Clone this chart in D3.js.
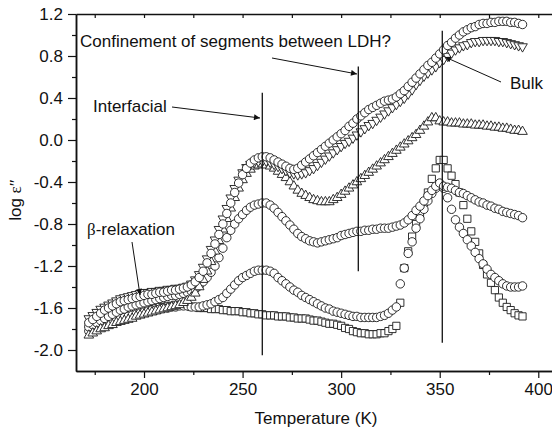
<!DOCTYPE html>
<html><head><meta charset="utf-8">
<script src="https://cdn.jsdelivr.net/npm/d3@7"></script>
<style>body{margin:0;background:#fff}svg{display:block}</style>
</head><body>
<script>
// Temperature grid (K)
const temps = [172,174,176,178,180,182,184,186,188,190,
192,194,196,198,200,202,204,206,208,210,
212,214,216,218,220,222,224,226,228,230,
232,234,236,238,240,242,244,246,248,250,
252,254,256,258,260,262,264,266,268,270,
272,274,276,278,280,282,284,286,288,290,
292,294,296,298,300,302,304,306,308,310,
312,314,316,318,320,322,324,326,328,330,
332,334,336,338,340,342,344,346,348,350,
352,354,356,358,360,362,364,366,368,370,
372,374,376,378,380,382,384,386,388,390,
392];

// log eps'' series
const squares = [-1.76,-1.74,-1.73,-1.72,-1.71,-1.70,-1.69,-1.68,-1.67,-1.66,
-1.65,-1.64,-1.64,-1.63,-1.62,-1.61,-1.61,-1.60,-1.59,-1.59,
-1.58,-1.58,-1.57,-1.57,-1.58,-1.58,-1.59,-1.59,-1.60,-1.60,
-1.60,-1.61,-1.61,-1.61,-1.62,-1.62,-1.63,-1.63,-1.63,-1.64,
-1.64,-1.65,-1.65,-1.66,-1.66,-1.67,-1.67,-1.67,-1.68,-1.68,
-1.68,-1.69,-1.69,-1.70,-1.70,-1.70,-1.71,-1.72,-1.72,-1.73,
-1.74,-1.75,-1.75,-1.76,-1.77,-1.79,-1.80,-1.82,-1.83,-1.84,
-1.84,-1.85,-1.85,-1.85,-1.84,-1.84,-1.82,-1.80,-1.77,-1.55,
-1.22,-1.06,-0.92,-0.80,-0.70,-0.60,-0.50,-0.37,-0.27,-0.19,
-0.19,-0.27,-0.34,-0.42,-0.50,-0.62,-0.75,-0.87,-0.97,-1.08,
-1.19,-1.28,-1.36,-1.43,-1.50,-1.55,-1.59,-1.62,-1.65,-1.67,
-1.68];

const circlesLow = [-1.82,-1.80,-1.78,-1.76,-1.75,-1.73,-1.72,-1.71,-1.70,-1.69,
-1.68,-1.67,-1.66,-1.65,-1.64,-1.63,-1.62,-1.62,-1.61,-1.60,
-1.60,-1.59,-1.59,-1.58,-1.58,-1.58,-1.59,-1.59,-1.59,-1.58,
-1.57,-1.56,-1.54,-1.52,-1.50,-1.46,-1.42,-1.38,-1.34,-1.31,
-1.29,-1.27,-1.25,-1.24,-1.24,-1.24,-1.25,-1.27,-1.31,-1.34,
-1.37,-1.40,-1.43,-1.45,-1.48,-1.50,-1.52,-1.54,-1.56,-1.58,
-1.60,-1.61,-1.63,-1.64,-1.65,-1.66,-1.67,-1.68,-1.68,-1.69,
-1.69,-1.69,-1.69,-1.69,-1.68,-1.67,-1.65,-1.62,-1.59,-1.37,
-1.22,-1.08,-0.97,-0.84,-0.75,-0.66,-0.58,-0.51,-0.46,-0.42,
-0.46,-0.55,-0.66,-0.76,-0.83,-0.89,-0.95,-1.01,-1.07,-1.13,
-1.18,-1.23,-1.28,-1.31,-1.34,-1.37,-1.39,-1.40,-1.40,-1.40,
-1.39];

const circlesMid = [-1.78,-1.76,-1.74,-1.72,-1.70,-1.68,-1.66,-1.64,-1.62,-1.61,
-1.59,-1.58,-1.57,-1.56,-1.55,-1.54,-1.53,-1.52,-1.51,-1.50,
-1.49,-1.48,-1.48,-1.47,-1.46,-1.45,-1.44,-1.42,-1.39,-1.35,
-1.31,-1.26,-1.20,-1.12,-1.03,-0.93,-0.86,-0.80,-0.75,-0.71,
-0.67,-0.64,-0.62,-0.61,-0.60,-0.60,-0.62,-0.65,-0.69,-0.73,
-0.77,-0.81,-0.85,-0.89,-0.92,-0.94,-0.96,-0.97,-0.98,-0.97,
-0.96,-0.95,-0.94,-0.93,-0.91,-0.90,-0.89,-0.88,-0.87,-0.87,
-0.86,-0.86,-0.85,-0.85,-0.84,-0.84,-0.84,-0.83,-0.82,-0.81,
-0.79,-0.76,-0.72,-0.67,-0.63,-0.58,-0.53,-0.48,-0.44,-0.41,
-0.44,-0.45,-0.46,-0.48,-0.50,-0.51,-0.53,-0.55,-0.57,-0.59,
-0.60,-0.62,-0.63,-0.65,-0.66,-0.68,-0.69,-0.70,-0.71,-0.72,
-0.74];

const trianglesUp = [-1.86,-1.84,-1.82,-1.80,-1.79,-1.77,-1.76,-1.74,-1.73,-1.72,
-1.71,-1.70,-1.68,-1.67,-1.66,-1.65,-1.64,-1.63,-1.62,-1.61,
-1.60,-1.59,-1.58,-1.57,-1.55,-1.53,-1.50,-1.46,-1.40,-1.33,
-1.25,-1.16,-1.06,-0.96,-0.85,-0.75,-0.65,-0.55,-0.46,-0.38,
-0.32,-0.28,-0.25,-0.24,-0.23,-0.24,-0.25,-0.27,-0.30,-0.33,
-0.36,-0.40,-0.44,-0.48,-0.51,-0.53,-0.55,-0.57,-0.58,-0.59,
-0.59,-0.59,-0.57,-0.55,-0.52,-0.49,-0.46,-0.43,-0.40,-0.37,
-0.34,-0.31,-0.28,-0.25,-0.22,-0.19,-0.16,-0.13,-0.10,-0.07,
-0.04,-0.01,0.02,0.05,0.09,0.13,0.17,0.21,0.21,0.18,
0.17,0.17,0.16,0.16,0.16,0.15,0.15,0.15,0.14,0.14,
0.14,0.13,0.13,0.12,0.12,0.11,0.11,0.10,0.09,0.09,
0.08];

const trianglesDown = [-1.70,-1.67,-1.64,-1.61,-1.59,-1.57,-1.55,-1.53,-1.51,-1.50,
-1.49,-1.48,-1.47,-1.46,-1.45,-1.45,-1.44,-1.44,-1.43,-1.43,
-1.42,-1.42,-1.41,-1.41,-1.40,-1.39,-1.37,-1.33,-1.28,-1.21,
-1.13,-1.04,-0.95,-0.85,-0.75,-0.65,-0.55,-0.46,-0.38,-0.31,
-0.26,-0.23,-0.21,-0.20,-0.20,-0.20,-0.21,-0.23,-0.25,-0.27,
-0.29,-0.31,-0.32,-0.33,-0.32,-0.31,-0.29,-0.27,-0.24,-0.21,
-0.18,-0.15,-0.12,-0.09,-0.06,-0.03,-0.01,0.02,0.05,0.08,
0.11,0.14,0.16,0.19,0.22,0.25,0.28,0.31,0.34,0.37,
0.40,0.44,0.48,0.53,0.57,0.61,0.64,0.67,0.70,0.74,
0.77,0.80,0.83,0.86,0.88,0.90,0.91,0.93,0.94,0.94,
0.95,0.95,0.95,0.95,0.94,0.94,0.93,0.92,0.91,0.90,
0.89];

const circlesTop = [-1.74,-1.71,-1.68,-1.65,-1.62,-1.60,-1.58,-1.56,-1.54,-1.53,
-1.52,-1.51,-1.50,-1.49,-1.48,-1.47,-1.47,-1.46,-1.45,-1.45,
-1.44,-1.43,-1.43,-1.42,-1.41,-1.40,-1.38,-1.35,-1.31,-1.25,
-1.17,-1.08,-0.99,-0.90,-0.80,-0.70,-0.60,-0.50,-0.41,-0.33,
-0.27,-0.22,-0.19,-0.17,-0.16,-0.16,-0.17,-0.19,-0.21,-0.23,
-0.25,-0.27,-0.28,-0.27,-0.24,-0.21,-0.18,-0.15,-0.12,-0.09,
-0.06,-0.03,0.00,0.03,0.06,0.09,0.13,0.16,0.20,0.23,
0.26,0.29,0.31,0.33,0.35,0.37,0.38,0.39,0.41,0.44,
0.47,0.51,0.55,0.59,0.63,0.67,0.71,0.74,0.78,0.82,
0.86,0.90,0.93,0.97,1.00,1.03,1.05,1.07,1.08,1.10,
1.11,1.11,1.12,1.12,1.13,1.13,1.13,1.12,1.12,1.11,
1.10];

// ticks
const xMajorTicks = [200,250,300,350,400];
const xMinorTicks = [175,225,275,325,375];
const xTopTicks = [175,200,225,250,275,300,325,350,375,400];
const yMajorTicks = [-2.0,-1.6,-1.2,-0.8,-0.4,0.0,0.4,0.8,1.2];
const yMinorTicks = [-1.8,-1.4,-1.0,-0.6,-0.2,0.2,0.6,1.0];

// vertical guide lines (T, top, bottom in log eps'')
const guideT = [260, 308.7, 351.3];
const guideTop = [0.45, 0.70, 1.04];
const guideBottom = [-2.05, -1.25, -1.93];

const W = 552, H = 431;
const FONT = "'Liberation Sans', Arial, sans-serif";
const svg = d3.select("body").append("svg").attr("width", W).attr("height", H)
  .style("font-family", FONT);

const x = d3.scaleLinear().domain([165.5, 410]).range([76, 558]);
const y = d3.scaleLinear().domain([-2.2, 1.2]).range([371, 14]);

const defs = svg.append("defs");
defs.append("marker").attr("id", "ah").attr("viewBox", "0 0 10 10")
  .attr("refX", 10).attr("refY", 5).attr("markerWidth", 9).attr("markerHeight", 6)
  .attr("markerUnits", "userSpaceOnUse").attr("orient", "auto")
  .append("path").attr("d", "M0,0 L10,5 L0,10 z").attr("fill", "#111");

// axes
function styleAxis(g, fs) {
  g.selectAll(".domain").attr("stroke", "#111").attr("stroke-width", 1.5);
  g.selectAll(".tick line").attr("stroke", "#111").attr("stroke-width", 1.2);
  g.selectAll(".tick text").attr("fill", "#111").attr("font-size", fs)
    .attr("font-family", FONT);
}
const gxb = svg.append("g").attr("transform", "translate(0,371)")
  .call(d3.axisBottom(x).tickValues(xMajorTicks).tickSize(7).tickPadding(5).tickSizeOuter(0).tickFormat(d3.format("d")));
styleAxis(gxb, 17);
const gxbm = svg.append("g").attr("transform", "translate(0,371)")
  .call(d3.axisBottom(x).tickValues(xMinorTicks).tickSize(4).tickSizeOuter(0).tickFormat(""));
styleAxis(gxbm, 17);
const gxt = svg.append("g").attr("transform", "translate(0,14)")
  .call(d3.axisBottom(x).tickValues(xTopTicks).tickSize(4).tickSizeOuter(0).tickFormat(""));
styleAxis(gxt, 17);
const gyl = svg.append("g").attr("transform", "translate(76,0)")
  .call(d3.axisLeft(y).tickValues(yMajorTicks).tickSize(8).tickPadding(5).tickSizeOuter(0).tickFormat(d => d.toFixed(1)));
styleAxis(gyl, 17);
const gylm = svg.append("g").attr("transform", "translate(76,0)")
  .call(d3.axisLeft(y).tickValues(yMinorTicks).tickSize(4).tickSizeOuter(0).tickFormat(""));
styleAxis(gylm, 17);

// markers
const seriesList = [
  {vals: squares, sym: d3.symbolSquare, size: 52, rot: 0},
  {vals: circlesLow, sym: d3.symbolCircle, size: 56, rot: 0},
  {vals: circlesMid, sym: d3.symbolCircle, size: 56, rot: 0},
  {vals: trianglesUp, sym: d3.symbolTriangle, size: 40, rot: 0},
  {vals: trianglesDown, sym: d3.symbolTriangle, size: 40, rot: 180},
  {vals: circlesTop, sym: d3.symbolCircle, size: 56, rot: 0}
];
seriesList.forEach(s => {
  const path = d3.symbol().type(s.sym).size(s.size)();
  svg.append("g").selectAll("path").data(temps.map((t, i) => [t, s.vals[i]]))
    .join("path").attr("d", path)
    .attr("transform", d => `translate(${x(d[0])},${y(d[1])}) rotate(${s.rot})`)
    .attr("fill", "#fff").attr("stroke", "#1a1a1a").attr("stroke-width", 0.9);
});

// vertical guide lines
svg.append("g").selectAll("line").data(guideT).join("line")
  .attr("x1", d => x(d)).attr("x2", d => x(d))
  .attr("y1", (d, i) => y(guideTop[i])).attr("y2", (d, i) => y(guideBottom[i]))
  .attr("stroke", "#111").attr("stroke-width", 1.3);

// annotation arrows
const arrows = [
  [172, 107, 260, 118],
  [272, 58, 357, 74],
  [501, 82, 445, 57],
  [132, 242, 140, 295]
];
svg.append("g").selectAll("line").data(arrows).join("line")
  .attr("x1", d => d[0]).attr("y1", d => d[1]).attr("x2", d => d[2]).attr("y2", d => d[3])
  .attr("stroke", "#111").attr("stroke-width", 1).attr("marker-end", "url(#ah)");

// annotation texts
function label(tx, ty, txt) {
  return svg.append("text").attr("x", tx).attr("y", ty).attr("font-size", 17).attr("fill", "#111").text(txt);
}
label(80, 46.5, "Confinement of segments between LDH?");
label(93, 111.5, "Interfacial");
label(510, 89, "Bulk");
const beta = svg.append("text").attr("x", 87).attr("y", 235).attr("font-size", 17).attr("fill", "#111");
beta.append("tspan").attr("font-family", "'Liberation Serif', serif").text("β");
beta.append("tspan").text("-relaxation");

// axis titles
svg.append("text").attr("x", 316).attr("y", 424).attr("text-anchor", "middle")
  .attr("font-size", 17).attr("fill", "#111").text("Temperature (K)");
const yl = svg.append("text").attr("transform", "translate(21,200) rotate(-90)")
  .attr("text-anchor", "middle").attr("font-size", 17).attr("fill", "#111");
yl.append("tspan").text("log ");
yl.append("tspan").attr("font-family", "'Liberation Serif', serif").text("ε\u2033");
</script>
</body></html>
